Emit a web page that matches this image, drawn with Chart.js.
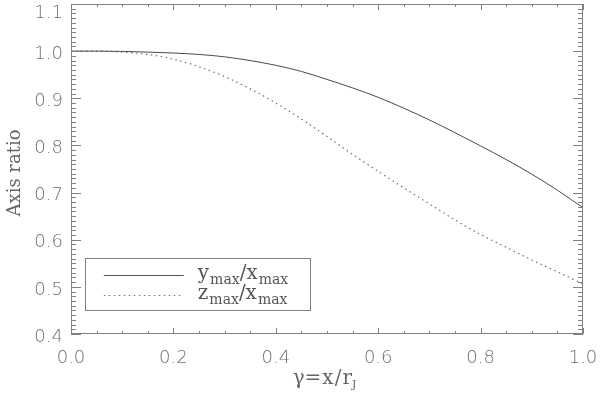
<!DOCTYPE html>
<html>
<head>
<meta charset="utf-8">
<script src="https://cdn.jsdelivr.net/npm/chart.js@4.4.1/dist/chart.umd.min.js"></script>
<style>
html,body{margin:0;padding:0;background:#fff;}
#wrap{width:600px;height:395px;position:relative;}
</style>
</head>
<body>
<div id="wrap"><canvas id="c" width="600" height="395"></canvas></div>
<script>
const gammaValues = [0,0.05,0.1,0.15,0.2,0.25,0.3,0.35,0.4,0.45,0.5,0.55,0.6,0.65,0.7,0.75,0.8,0.85,0.9,0.95,1.0];
const yOverX = [1.000,1.000,0.9995,0.998,0.996,0.993,0.988,0.980,0.970,0.957,0.940,0.922,0.902,0.879,0.854,0.827,0.799,0.770,0.739,0.705,0.668];
const zOverX = [1.000,1.000,0.998,0.993,0.983,0.967,0.946,0.920,0.890,0.856,0.819,0.781,0.745,0.710,0.676,0.642,0.611,0.584,0.557,0.532,0.506];
const xTickLabels = ["0.0","0.2","0.4","0.6","0.8","1.0"];
const yTickLabels = ["0.4","0.5","0.6","0.7","0.8","0.9","1.0","1.1"];

const axisColor = '#808080';
const labelColor = '#707070';

const framePlugin = {
  id: 'frame',
  afterDraw(chart) {
    const ctx = chart.ctx;
    const xs = chart.scales.x, ys = chart.scales.y;
    const a = chart.chartArea;
    ctx.save();
    ctx.strokeStyle = axisColor;
    ctx.lineWidth = 1;
    ctx.strokeRect(a.left + 0.5, a.top + 0.5, a.right - a.left - 1, a.bottom - a.top - 1);
    ctx.beginPath();
    for (let i = 40; i <= 110; i++) {
      const py = Math.round(ys.getPixelForValue(i / 100)) + 0.5;
      const len = (i % 10 === 0) ? 10 : 5;
      ctx.moveTo(a.left, py); ctx.lineTo(a.left + len, py);
      ctx.moveTo(a.right, py); ctx.lineTo(a.right - len, py);
    }
    for (let i = 0; i <= 20; i++) {
      const px = Math.round(xs.getPixelForValue(i / 20)) + 0.5;
      const len = (i % 4 === 0) ? 6 : 3;
      ctx.moveTo(px, a.bottom); ctx.lineTo(px, a.bottom - len);
      ctx.moveTo(px, a.top); ctx.lineTo(px, a.top + len);
    }
    ctx.stroke();

    // tick labels
    ctx.fillStyle = labelColor;
    ctx.font = '200 18px "DejaVu Sans"';
    ctx.textAlign = 'right';
    ctx.textBaseline = 'middle';
    yTickLabels.forEach(t => {
      let py = ys.getPixelForValue(parseFloat(t)) + 3;
      if (py < 13) py = 13;
      ctx.fillText(t, a.left - 8, py);
    });
    ctx.textAlign = 'center';
    xTickLabels.forEach(t => {
      const px = xs.getPixelForValue(parseFloat(t));
      ctx.fillText(t, px, a.bottom + 24);
    });

    // y axis title
    ctx.fillStyle = '#666';
    ctx.font = '18px "DejaVu Serif"';
    ctx.save();
    ctx.translate(15, 173);
    ctx.rotate(-Math.PI / 2);
    ctx.textAlign = 'center';
    ctx.textBaseline = 'middle';
    ctx.fillText('Axis ratio', 0, 0);
    ctx.restore();

    // x title gamma = x / r_J
    ctx.textAlign = 'left';
    ctx.textBaseline = 'alphabetic';
    const parts = [['\u03B3', 20, 0, 0], ['=', 20, 0, 1], ['x', 20, 0, 1], ['/', 20, 0, 1], ['r', 20, 0, 0], ['J', 11, 4, 1]];
    let tw = 0;
    parts.forEach(p => { ctx.font = p[1] + 'px "DejaVu Serif"'; tw += ctx.measureText(p[0]).width + p[3]; });
    let sx = (a.left + a.right) / 2 - tw / 2 - 2;
    parts.forEach(p => {
      ctx.font = p[1] + 'px "DejaVu Serif"';
      ctx.fillText(p[0], sx, 384 + p[2]);
      sx += ctx.measureText(p[0]).width + p[3];
    });

    // legend box
    const lx = xs.getPixelForValue(0.027), rx = xs.getPixelForValue(0.467);
    const ty = ys.getPixelForValue(0.5615), by = ys.getPixelForValue(0.4505);
    ctx.strokeStyle = axisColor;
    ctx.lineWidth = 1;
    ctx.strokeRect(Math.round(lx) + 0.5, Math.round(ty) + 0.5, Math.round(rx - lx), Math.round(by - ty));
    const l1 = Math.round(ty) + 17.5, l2 = Math.round(ty) + 37.5;
    ctx.strokeStyle = '#555';
    ctx.beginPath(); ctx.moveTo(lx + 19, l1); ctx.lineTo(lx + 99, l1); ctx.stroke();
    ctx.strokeStyle = '#777';
    ctx.setLineDash([1.5, 3.5]);
    ctx.beginPath(); ctx.moveTo(lx + 19, l2); ctx.lineTo(lx + 99, l2); ctx.stroke();
    ctx.setLineDash([]);

    function ratioText(a1, x0, base) {
      ctx.fillStyle = '#555';
      let x = x0;
      ctx.font = '20px "DejaVu Serif"';
      ctx.fillText(a1, x, base); x += ctx.measureText(a1).width + 1;
      ctx.font = '14px "DejaVu Serif"';
      ctx.fillText('max', x, base + 5); x += ctx.measureText('max').width;
      ctx.font = '20px "DejaVu Serif"';
      ctx.fillText('/', x, base); x += ctx.measureText('/').width;
      ctx.fillText('x', x, base); x += ctx.measureText('x').width + 1;
      ctx.font = '14px "DejaVu Serif"';
      ctx.fillText('max', x, base + 5);
    }
    ratioText('y', lx + 113, l1 + 3);
    ratioText('z', lx + 113, l2 + 3);
    ctx.restore();
  }
};

new Chart(document.getElementById('c'), {
  type: 'line',
  data: {
    datasets: [
      {
        label: 'y_max/x_max',
        data: gammaValues.map((g, i) => ({x: g, y: yOverX[i]})),
        borderColor: '#4a4a4a',
        borderWidth: 1,
        pointRadius: 0,
        cubicInterpolationMode: 'monotone',
        fill: false
      },
      {
        label: 'z_max/x_max',
        data: gammaValues.map((g, i) => ({x: g, y: zOverX[i]})),
        borderColor: '#707070',
        borderWidth: 1.2,
        borderDash: [1.5, 3.5],
        pointRadius: 0,
        cubicInterpolationMode: 'monotone',
        fill: false
      }
    ]
  },
  options: {
    responsive: false,
    animation: false,
    devicePixelRatio: 1,
    layout: { padding: { left: 0, top: 4, right: 17, bottom: 0 } },
    plugins: { legend: { display: false }, tooltip: { enabled: false } },
    scales: {
      x: {
        type: 'linear', min: 0, max: 1,
        grid: { display: false, drawTicks: false },
        border: { display: false },
        ticks: { display: false },
        afterFit(s) { s.height = 61; }
      },
      y: {
        type: 'linear', min: 0.4, max: 1.1,
        grid: { display: false, drawTicks: false },
        border: { display: false },
        ticks: { display: false },
        afterFit(s) { s.width = 71; }
      }
    }
  },
  plugins: [framePlugin]
});
</script>
</body>
</html>
